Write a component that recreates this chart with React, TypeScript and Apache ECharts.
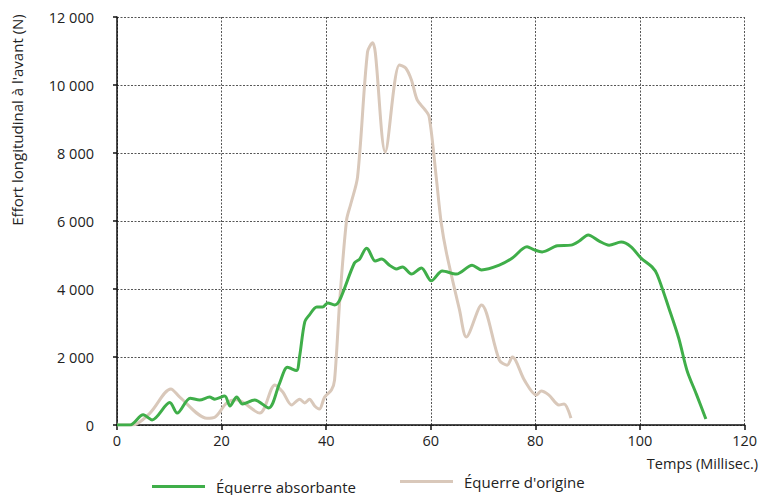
import React, { useEffect, useRef } from "react";
import * as echarts from "echarts";

const xTicks = [0, 20, 40, 60, 80, 100, 120];
const yTicks = [0, 2000, 4000, 6000, 8000, 10000, 12000];

const seriesNames = ["Équerre absorbante", "Équerre d'origine"];

const tAbsorbante = [0, 2.5, 5, 6.7, 10.1, 11.5, 14, 15.8, 17.7, 18.7, 20.6, 21.6, 22.9, 24, 26.3, 29, 31.1, 32.6, 34.3, 34.9, 35.9, 36.8, 38.2, 39.3, 40.3, 41.6, 42.6, 45.4, 46.4, 47.7, 48.1, 49.4, 50.6, 52.1, 53.4, 54.6, 56.3, 58.2, 60.1, 62.2, 64.9, 67.9, 69.7, 73.1, 75.6, 78.4, 79.8, 81.3, 84.2, 86.8, 88.4, 90.1, 92.2, 94.1, 96.4, 98.3, 100.2, 102.3, 103.3, 105.5, 107.4, 109, 110.8, 112.6];
const vAbsorbante = [0, 0, 300, 150, 660, 350, 790, 735, 820, 760, 850, 560, 820, 620, 735, 500, 1235, 1700, 1600, 2000, 3030, 3240, 3470, 3470, 3590, 3530, 3680, 4765, 4880, 5200, 5150, 4820, 4880, 4700, 4590, 4650, 4440, 4620, 4240, 4530, 4440, 4700, 4560, 4700, 4910, 5240, 5150, 5090, 5270, 5290, 5410, 5590, 5410, 5290, 5380, 5240, 4910, 4650, 4420, 3450, 2560, 1600, 900, 176];

const tOrigine = [0, 3, 6.3, 10.3, 12, 17.2, 18.7, 21, 22.9, 27.3, 30.2, 31.7, 33.4, 34.9, 35.9, 36.8, 37.8, 38.7, 39.7, 41, 41.6, 42.6, 43.9, 44.7, 46, 47.9, 48.9, 49.4, 51.3, 54, 55.2, 56.3, 57.4, 58.8, 59.7, 61.1, 62, 63, 65.5, 66.8, 69.7, 73.1, 74.6, 75.6, 77.9, 80.2, 81.1, 82.6, 84.5, 85.5, 86.8];
const vOrigine = [0, 0, 350, 1060, 820, 200, 230, 650, 740, 350, 1180, 970, 590, 760, 650, 760, 560, 470, 820, 1030, 1320, 3680, 6030, 6500, 7300, 10970, 11240, 10940, 8030, 10590, 10500, 10150, 9560, 9290, 9060, 7200, 5940, 5060, 3380, 2590, 3530, 1910, 1760, 2000, 1320, 880, 1000, 880, 590, 620, 200];

const GREEN = "#3fae49";
const BEIGE = "#d9c8ba";
const FONT = "Open Sans";

const fmt = (v: number) => String(v).replace(/\B(?=(\d{3})+(?!\d))/g, " ");

export default function App() {
  const ref = useRef<HTMLDivElement>(null);
  useEffect(() => {
    if (!ref.current) return;
    const chart = echarts.init(ref.current, null, { renderer: "svg" });
    const absorbante = tAbsorbante.map((t, i) => [t, vAbsorbante[i]]);
    const origine = tOrigine.map((t, i) => [t, vOrigine[i]]);
    const legendText = { fontFamily: FONT, fontSize: 15, color: "#222", padding: [0, 0, 0, 6] };
    chart.setOption({
      animation: false,
      textStyle: { fontFamily: FONT },
      grid: { left: 117, right: 13, top: 17, bottom: 70, containLabel: false },
      legend: [
        {
          data: [seriesNames[0]],
          left: 152,
          top: 479,
          icon: "rect",
          itemWidth: 53,
          itemHeight: 3,
          itemGap: 0,
          textStyle: legendText,
          padding: 0,
        },
        {
          data: [seriesNames[1]],
          left: 400,
          top: 474,
          icon: "rect",
          itemWidth: 53,
          itemHeight: 3,
          itemGap: 0,
          textStyle: legendText,
          padding: 0,
        },
      ],
      xAxis: {
        type: "value",
        min: xTicks[0],
        max: xTicks[xTicks.length - 1],
        interval: 20,
        axisLine: { show: true, lineStyle: { color: "#111", width: 1.5 } },
        axisTick: { show: true, length: 5, lineStyle: { color: "#111", width: 1.5 } },
        axisLabel: { color: "#222", fontSize: 14.5, fontFamily: FONT, margin: 8, formatter: (v: number) => fmt(v) },
        splitLine: { show: true, lineStyle: { type: [2, 1.5], color: "#555", width: 1 } },
      },
      yAxis: {
        type: "value",
        min: yTicks[0],
        max: yTicks[yTicks.length - 1],
        interval: 2000,
        axisLine: { show: true, lineStyle: { color: "#111", width: 1.5 } },
        axisTick: { show: true, length: 4, lineStyle: { color: "#111", width: 1.5 } },
        axisLabel: { color: "#222", fontSize: 14.5, fontFamily: FONT, margin: 23, formatter: (v: number) => fmt(v) },
        splitLine: { show: true, lineStyle: { type: [2, 1.5], color: "#555", width: 1 } },
      },
      graphic: [
        {
          type: "text",
          x: 17,
          y: 120,
          rotation: Math.PI / 2,
          style: {
            text: "Effort longitudinal à l'avant (N)",
            fontFamily: FONT,
            fontSize: 15,
            fill: "#222",
            align: "center",
            verticalAlign: "middle",
          },
        },
        {
          type: "text",
          right: 2,
          top: 456,
          style: {
            text: "Temps (Millisec.)",
            fontFamily: FONT,
            fontSize: 14.5,
            fill: "#222",
          },
        },
      ],
      series: [
        {
          name: seriesNames[0],
          type: "line",
          data: absorbante,
          showSymbol: false,
          smooth: 0.3,
          z: 3,
          lineStyle: { color: GREEN, width: 3 },
          itemStyle: { color: GREEN },
        },
        {
          name: seriesNames[1],
          type: "line",
          data: origine,
          showSymbol: false,
          smooth: 0.3,
          z: 2,
          lineStyle: { color: BEIGE, width: 3 },
          itemStyle: { color: BEIGE },
        },
      ],
    });
    return () => chart.dispose();
  }, []);
  return <div ref={ref} style={{ width: 760, height: 495, position: "absolute", left: 0, top: 0 }} />;
}
